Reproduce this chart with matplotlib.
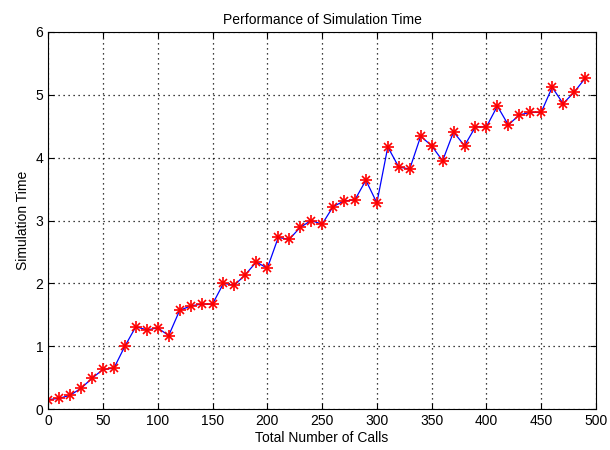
import matplotlib.pyplot as plt
import numpy as np

plt.rcParams['font.family'] = ['Liberation Sans', 'DejaVu Sans']

calls = np.arange(0, 500, 10)
sim_time = [0.15, 0.17, 0.22, 0.33, 0.49, 0.63, 0.65, 1.00, 1.31, 1.26,
            1.29, 1.17, 1.57, 1.64, 1.67, 1.67, 2.00, 1.97, 2.14, 2.34,
            2.24, 2.73, 2.70, 2.89, 3.00, 2.94, 3.22, 3.31, 3.33, 3.64,
            3.28, 4.17, 3.85, 3.82, 4.34, 4.19, 3.95, 4.41, 4.19, 4.49,
            4.49, 4.82, 4.52, 4.68, 4.72, 4.72, 5.12, 4.86, 5.04, 5.26]

fig = plt.figure(figsize=(6.1, 4.5), dpi=100)
ax = fig.add_axes([0.079, 0.091, 0.898, 0.838])
ax.plot(calls, sim_time, color='blue', linewidth=0.9)
# matlab-style '*' marker: a plus with a smaller x on top
ax.plot(calls, sim_time, linestyle='none', marker='+', markersize=9,
        markeredgewidth=1.2, color='red')
ax.plot(calls, sim_time, linestyle='none', marker='x', markersize=5.5,
        markeredgewidth=1.2, color='red')

ax.set_xlim(0, 500)
ax.set_ylim(0, 6)
ax.set_xticks(np.arange(0, 501, 50))
ax.set_yticks(np.arange(0, 7, 1))
ax.grid(True, linestyle=(0, (1, 3)), color='black', linewidth=0.9)
ax.tick_params(direction='in', labelsize=10, top=True, right=True, length=4)
ax.set_title("Performance of Simulation Time", fontsize=10)
ax.set_xlabel("Total Number of Calls", fontsize=10, labelpad=2)
ax.set_ylabel("Simulation Time", fontsize=10, labelpad=4)

plt.savefig("out.png")
